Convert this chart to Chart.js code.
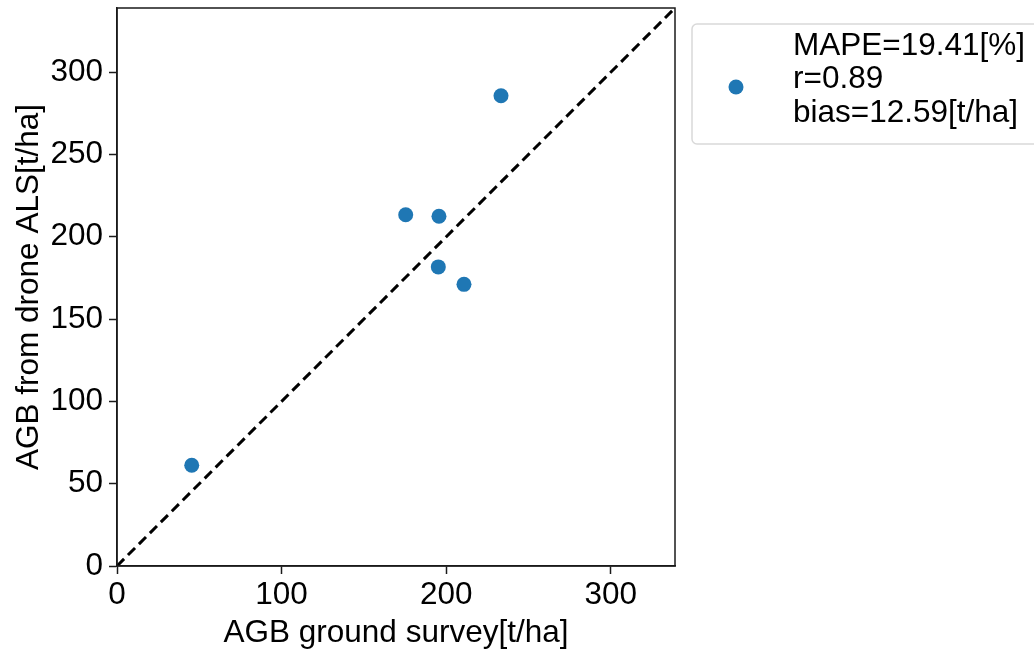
<!DOCTYPE html>
<html>
<head>
<meta charset="utf-8">
<title>AGB: drone ALS vs ground survey</title>
<script src="https://cdn.jsdelivr.net/npm/chart.js@4/dist/chart.umd.min.js"></script>
<style>
  html, body { margin: 0; padding: 0; background: #ffffff; }
  #wrap { width: 1034px; height: 653px; position: relative; }
</style>
</head>
<body>
<div id="wrap"><canvas id="c" width="1034" height="653"></canvas></div>
<script>
// Plot-level AGB estimates [t/ha]
const groundSurvey = [45.4, 175.4, 195.6, 195.2, 210.8, 233.3];
const droneAls     = [61.2, 213.4, 212.5, 181.7, 171.1, 285.7];

// Axis extent and ticks
const axisMax = 339;
const xTicks = [0, 100, 200, 300];
const yTicks = [0, 50, 100, 150, 200, 250, 300];

// Legend text (accuracy statistics)
const statsLines = ['MAPE=19.41[%]', 'r=0.89', 'bias=12.59[t/ha]'];

const xTitle = 'AGB ground survey[t/ha]';
const yTitle = 'AGB from drone ALS[t/ha]';

const FONT = 'Liberation Sans, Arial, Helvetica, sans-serif';
const FS = 31.5;
const BLUE = '#1f77b4';
const INK = '#1a1a1a';

const points = groundSurvey.map((x, i) => ({ x: x, y: droneAls[i] }));
const diagonal = [{ x: 0, y: 0 }, { x: axisMax, y: axisMax }];

// Frame around the plot area and the statistics legend box
const framePlugin = {
  id: 'frame',
  afterDatasetsDraw(chart) {
    const { ctx, chartArea: a } = chart;
    ctx.save();
    ctx.strokeStyle = INK;
    ctx.lineWidth = 1.5;
    ctx.strokeRect(a.left, a.top, a.right - a.left, a.bottom - a.top);
    ctx.restore();
  },
  afterDraw(chart) {
    const { ctx } = chart;
    ctx.save();
    // legend box
    const bx = 692, by = 24, bw = 360, bh = 120, r = 5;
    ctx.beginPath();
    ctx.moveTo(bx + r, by);
    ctx.lineTo(bx + bw, by);
    ctx.lineTo(bx + bw, by + bh);
    ctx.lineTo(bx + r, by + bh);
    ctx.arcTo(bx, by + bh, bx, by + bh - r, r);
    ctx.lineTo(bx, by + r);
    ctx.arcTo(bx, by, bx + r, by, r);
    ctx.closePath();
    ctx.fillStyle = 'rgba(255,255,255,0.8)';
    ctx.fill();
    ctx.strokeStyle = '#d9d9d9';
    ctx.lineWidth = 1.5;
    ctx.stroke();
    // marker
    ctx.beginPath();
    ctx.arc(736, 87, 7.5, 0, Math.PI * 2);
    ctx.fillStyle = BLUE;
    ctx.fill();
    // text
    ctx.fillStyle = '#000';
    ctx.font = FS + 'px ' + FONT;
    ctx.textAlign = 'left';
    ctx.textBaseline = 'middle';
    statsLines.forEach((t, i) => ctx.fillText(t, 793, 46 + i * 33.5));
    ctx.restore();
  }
};

new Chart(document.getElementById('c'), {
  type: 'scatter',
  data: {
    datasets: [
      {
        label: 'plots',
        data: points,
        backgroundColor: BLUE,
        borderColor: BLUE,
        pointRadius: 7.5,
        pointHoverRadius: 7.5,
        borderWidth: 0,
        order: 2
      },
      {
        type: 'line',
        label: '1:1',
        data: diagonal,
        borderColor: '#000',
        borderWidth: 3,
        borderDash: [10, 5.5],
        pointRadius: 0,
        fill: false,
        order: 1
      }
    ]
  },
  options: {
    responsive: false,
    animation: false,
    events: [],
    layout: { padding: { left: 0, top: 8, right: 359, bottom: 0 } },
    plugins: {
      legend: { display: false },
      tooltip: { enabled: false }
    },
    scales: {
      x: {
        type: 'linear',
        min: 0,
        max: axisMax,
        afterBuildTicks(scale) { scale.ticks = xTicks.map(v => ({ value: v })); },
        afterFit(scale) { scale.height = 87; scale.paddingLeft = 0; scale.paddingRight = 0; },
        grid: { drawOnChartArea: false, drawTicks: true, tickLength: 8, tickWidth: 1.5, tickColor: INK },
        border: { display: true, color: INK, width: 1.5 },
        ticks: { color: '#000', font: { family: FONT, size: FS }, padding: 2, maxRotation: 0 },
        title: { display: true, text: xTitle, color: '#000', font: { family: FONT, size: FS }, padding: { top: 0, bottom: 1 } }
      },
      y: {
        type: 'linear',
        min: 0,
        max: axisMax,
        afterBuildTicks(scale) { scale.ticks = yTicks.map(v => ({ value: v })); },
        afterFit(scale) { scale.width = 117; scale.paddingTop = 0; scale.paddingBottom = 0; },
        grid: { drawOnChartArea: false, drawTicks: true, tickLength: 8, tickWidth: 1.5, tickColor: INK },
        border: { display: true, color: INK, width: 1.5 },
        ticks: { color: '#000', font: { family: FONT, size: FS }, padding: 6 },
        title: { display: true, text: yTitle, color: '#000', font: { family: FONT, size: FS }, padding: { top: 10, bottom: 0 } }
      }
    }
  },
  plugins: [framePlugin]
});
</script>
</body>
</html>
